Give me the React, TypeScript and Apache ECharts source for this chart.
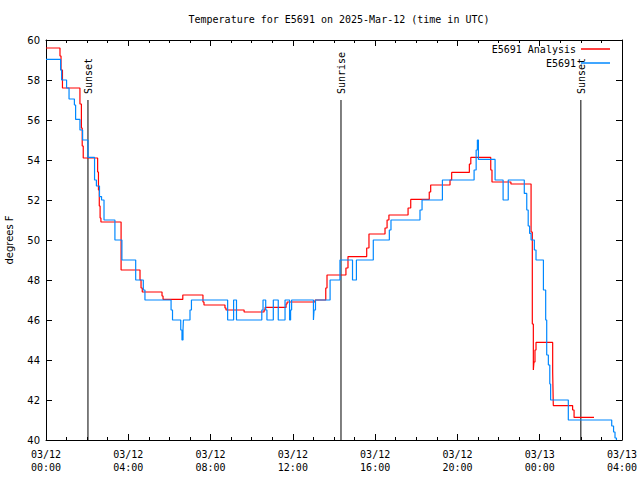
import React, { useEffect, useRef } from "react";
import * as echarts from "echarts";

const titleText = "Temperature for E5691 on 2025-Mar-12 (time in UTC)";
const xTickLabels = [
  "03/12\n00:00",
  "03/12\n04:00",
  "03/12\n08:00",
  "03/12\n12:00",
  "03/12\n16:00",
  "03/12\n20:00",
  "03/13\n00:00",
  "03/13\n04:00",
];
const seriesNames = ["E5691 Analysis", "E5691"];

// hours since 03/12 00:00 UTC, degrees F (value holds from that hour)
const analysisData: [number, number][] = [
  [0, 59.6], [0.68, 59.2], [0.73, 58.5], [0.8, 57.6], [1.65, 56.8], [1.72, 55.6],
  [1.76, 54.7], [1.81, 54.1], [2.51, 53.4], [2.55, 52.5], [2.59, 51.7], [2.63, 51.1],
  [2.67, 50.9], [3.65, 48.5], [4.57, 48.0], [4.62, 47.6], [4.68, 47.4], [5.64, 47.2],
  [5.69, 47.03], [6.65, 47.25], [7.63, 46.9], [7.68, 46.75], [8.7, 46.6], [8.75, 46.5],
  [9.63, 46.4], [10.6, 46.5], [10.65, 46.63], [11.67, 46.8], [11.72, 46.9], [13.08, 47.0],
  [13.6, 47.6], [13.66, 48.25], [14.58, 48.6], [14.68, 49.17], [15.59, 49.6], [15.7, 50.3],
  [16.48, 50.6], [16.58, 51.0], [16.67, 51.25], [17.6, 51.6], [17.73, 52.03], [18.63, 52.4],
  [18.7, 52.75], [19.64, 53.0], [19.72, 53.38], [20.58, 53.8], [20.65, 54.13], [21.62, 53.5],
  [21.68, 52.9], [22.6, 52.8], [23.58, 50.4], [23.64, 45.8], [23.69, 43.5], [23.72, 43.9],
  [23.77, 44.5], [23.82, 44.88], [24.63, 43.4], [24.66, 41.72], [25.6, 41.5], [25.67, 41.13],
  [26.64, 41.13],
];

const observedData: [number, number][] = [
  [0, 59.03], [0.71, 58.5], [0.76, 58.0], [1.0, 57.6], [1.12, 57.05], [1.38, 56.75],
  [1.44, 56.03], [1.65, 55.5], [1.78, 55.0], [2.04, 54.13], [2.36, 53.0], [2.45, 52.7],
  [2.6, 52.17], [2.7, 52.0], [2.82, 51.0], [3.35, 50.0], [3.69, 49.0], [4.36, 48.0],
  [4.73, 47.5], [4.81, 47.0], [6.08, 46.5], [6.15, 46.0], [6.55, 45.5], [6.61, 45.0],
  [6.66, 45.5], [6.68, 46.0], [7.0, 46.5], [7.07, 47.0], [8.83, 46.0], [9.12, 47.0],
  [9.26, 46.0], [10.49, 46.5], [10.55, 47.0], [10.68, 46.5], [10.74, 46.0], [11.05, 47.0],
  [11.29, 46.0], [11.62, 47.0], [11.84, 46.0], [11.89, 46.5], [11.94, 47.0], [13.0, 46.0],
  [13.03, 46.5], [13.1, 47.0], [13.81, 48.0], [14.29, 49.0], [14.9, 48.0], [15.09, 49.0],
  [15.91, 50.0], [16.69, 50.5], [16.77, 51.0], [18.18, 51.5], [18.28, 52.0], [19.27, 53.0],
  [20.81, 53.5], [20.91, 54.5], [20.97, 55.0], [21.02, 54.03], [21.83, 53.0], [22.22, 52.0],
  [22.47, 53.0], [23.25, 52.33], [23.37, 51.5], [23.44, 50.7], [23.51, 50.33], [23.58, 50.0],
  [23.74, 49.5], [23.82, 49.0], [24.18, 47.5], [24.29, 46.0], [24.34, 44.25], [24.42, 43.75],
  [24.49, 42.8], [24.53, 42.0], [25.39, 41.0], [27.5, 40.7], [27.59, 40.4], [27.66, 40.1],
  [27.73, 40.0],
];

const sunEventNames = ["Sunset", "Sunrise", "Sunset"];
const sunEventHours = [2.04, 14.34, 26.0];
const sunLineTop = 57;

const MONO = '"DejaVu Sans Mono", "Liberation Mono", monospace';
const SANS = '"DejaVu Sans", "Liberation Sans", sans-serif';

export default function App() {
  const ref = useRef<HTMLDivElement>(null);
  useEffect(() => {
    if (!ref.current) return;
    const chart = echarts.init(ref.current, null, { renderer: "svg" });
    const xBase = {
      type: "value",
      min: 0,
      max: 28,
      interval: 4,
      axisLine: { show: true, onZero: false, lineStyle: { color: "#000", width: 1 } },
      axisTick: { show: true, inside: true, length: 6, lineStyle: { color: "#000", width: 1 } },
      minorTick: { show: true, splitNumber: 4, length: 3, lineStyle: { color: "#000", width: 1 } },
      splitLine: { show: false },
      minorSplitLine: { show: false },
    };
    const yBase = {
      type: "value",
      min: 40,
      max: 60,
      interval: 2,
      axisLine: { show: true, onZero: false, lineStyle: { color: "#000", width: 1 } },
      axisTick: { show: true, inside: true, length: 6, lineStyle: { color: "#000", width: 1 } },
      splitLine: { show: false },
    };
    const legendBase = {
      right: 30,
      align: "right",
      icon: "rect",
      itemWidth: 29,
      itemHeight: 1.5,
      itemGap: 4,
      padding: 0,
      textStyle: { fontFamily: MONO, fontSize: 10, color: "#000" },
    };
    chart.setOption({
      animation: false,
      backgroundColor: "#fff",
      title: {
        text: titleText,
        left: 334,
        top: 9,
        textAlign: "center",
        textStyle: { fontFamily: MONO, fontSize: 10, fontWeight: "normal", color: "#000" },
      },
      grid: {
        left: 46,
        right: 18,
        top: 40,
        bottom: 40,
        containLabel: false,
        outerBoundsMode: "none",
      },
      legend: [
        { ...legendBase, data: [seriesNames[0]], top: 44 },
        { ...legendBase, data: [seriesNames[1]], top: 58 },
      ],
      xAxis: [
        {
          ...xBase,
          position: "bottom",
          axisLabel: {
            show: true,
            margin: 8,
            fontFamily: MONO,
            fontSize: 10,
            lineHeight: 13,
            color: "#000",
            formatter: (v: number) => xTickLabels[Math.round(v / 4)] ?? "",
          },
        },
        { ...xBase, position: "top", axisLabel: { show: false } },
      ],
      yAxis: [
        {
          ...yBase,
          position: "left",
          name: "degrees F",
          nameLocation: "middle",
          nameRotate: 90,
          nameGap: 32,
          nameTextStyle: { fontFamily: SANS, fontSize: 10, color: "#000" },
          axisLabel: { show: true, margin: 6, fontFamily: SANS, fontSize: 10, color: "#000" },
        },
        { ...yBase, position: "right", axisLabel: { show: false } },
      ],
      series: [
        {
          type: "custom",
          name: "sun",
          xAxisIndex: 0,
          yAxisIndex: 0,
          silent: true,
          data: sunEventHours.map((h) => [h, 40]),
          encode: { x: 0, y: 1 },
          renderItem: (params: any, api: any) => {
            const h = api.value(0);
            const p0 = api.coord([h, 40]);
            const p1 = api.coord([h, sunLineTop]);
            return {
              type: "group",
              children: [
                {
                  type: "line",
                  shape: { x1: p0[0], y1: p0[1], x2: p1[0], y2: p1[1] },
                  style: { stroke: "#000", lineWidth: 1 },
                },
                {
                  type: "text",
                  x: p1[0] + 1,
                  y: p1[1] - 6,
                  rotation: Math.PI / 2,
                  style: {
                    text: sunEventNames[params.dataIndex],
                    fill: "#000",
                    font: `10px ${MONO}`,
                    align: "left",
                    verticalAlign: "middle",
                    textAlign: "left",
                    textVerticalAlign: "middle",
                  },
                },
              ],
            };
          },
          z: 1,
        },
        {
          type: "line",
          name: seriesNames[0],
          data: analysisData,
          step: "end",
          showSymbol: false,
          symbol: "none",
          color: "#ff0000",
          lineStyle: { color: "#ff0000", width: 1.2 },
          z: 2,
        },
        {
          type: "line",
          name: seriesNames[1],
          data: observedData,
          step: "end",
          showSymbol: false,
          symbol: "none",
          color: "#0088ff",
          lineStyle: { color: "#0088ff", width: 1.2 },
          z: 3,
        },
      ],
    });
    return () => chart.dispose();
  }, []);
  return (
    <div
      ref={ref}
      style={{ position: "absolute", left: 0, top: 0, width: 640, height: 480, background: "#fff" }}
    />
  );
}
